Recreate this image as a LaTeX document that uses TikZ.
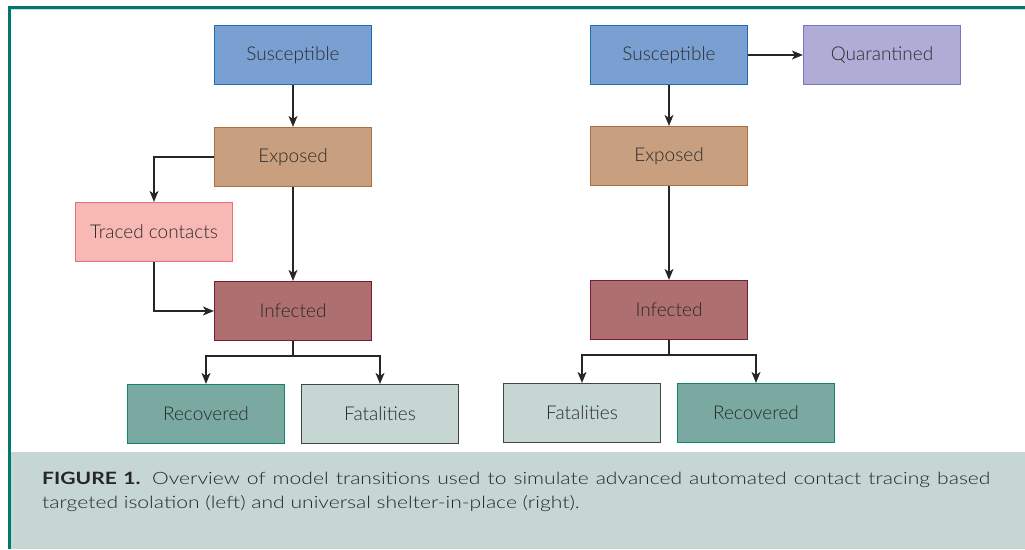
\documentclass[tikz,border=0pt]{standalone}
\usepackage{fontspec}
\setmainfont{Lato Light}[BoldFont=Lato Bold]
\newfontfamily\capfont{Lato Light}[FakeStretch=1.24, BoldFont=Lato Bold, BoldFeatures={FakeStretch=1.24}]
\usetikzlibrary{arrows.meta}
\newcommand{\boxlbl}[1]{\raisebox{-1.5pt}{#1}}
\definecolor{txt}{HTML}{2B2B2B}
\definecolor{framecol}{HTML}{00796A}
\definecolor{mint}{HTML}{BFE3DA}
\definecolor{capbg}{HTML}{C5D6D3}
\definecolor{sF}{HTML}{7AA0D2}\definecolor{sD}{HTML}{1A6EB8}
\definecolor{eF}{HTML}{C8A080}\definecolor{eD}{HTML}{B06E3C}
\definecolor{tF}{HTML}{F8B8B4}\definecolor{tD}{HTML}{EE6E78}
\definecolor{iF}{HTML}{AD6F6F}\definecolor{iD}{HTML}{7A1B35}
\definecolor{rF}{HTML}{7AA9A1}\definecolor{rD}{HTML}{13826F}
\definecolor{fF}{HTML}{C5D6D3}\definecolor{fD}{HTML}{444444}
\definecolor{qF}{HTML}{AFADD6}\definecolor{qD}{HTML}{7A76C2}
\tikzset{
  box/.style={draw, line width=1.2pt, minimum width=157pt, minimum height=59pt, inner sep=0pt, text=txt, font=\fontsize{19}{22}\selectfont},
  susbox/.style={box, fill=sF, draw=sD},
  expbox/.style={box, fill=eF, draw=eD},
  trcbox/.style={box, fill=tF, draw=tD},
  infbox/.style={box, fill=iF, draw=iD},
  recbox/.style={box, fill=rF, draw=rD},
  fatbox/.style={box, fill=fF, draw=fD},
  quabox/.style={box, fill=qF, draw=qD},
  arr/.style={-{Stealth[length=11pt,width=9pt,inset=3pt]}, line width=1.3pt, draw=black!85},
  plainline/.style={line width=1.3pt, draw=black!85},
  captext/.style={anchor=base west, inner sep=0pt, text=black!85, font=\capfont\fontsize{17}{20}\selectfont}
}
\begin{document}
\begin{tikzpicture}[x=1pt,y=-1pt]
\useasboundingbox (0,0) rectangle (1025,549);
\fill[capbg] (11,452) rectangle (1025,549);
\draw[mint, line width=1pt] (11,9.8) -- (1025,9.8);
\draw[framecol, line width=3pt] (9.5,549) -- (9.5,7) -- (1025,7);

% left model
\node[susbox] (lS) at (293,55) {\boxlbl{Susceptible}};
\node[expbox] (lE) at (293,157) {\boxlbl{Exposed}};
\node[trcbox] (lT) at (154,232) {\boxlbl{Traced contacts}};
\node[infbox] (lI) at (293,311) {\boxlbl{Infected}};
\node[recbox] (lR) at (206,414) {\boxlbl{Recovered}};
\node[fatbox] (lF) at (380,414) {\boxlbl{Fatalities}};
\coordinate (lB) at (293,356);
\draw[arr] (lS) -- (lE);
\draw[arr] (lE.west) -| (lT.north);
\draw[arr] (lT.south) |- (lI.west);
\draw[arr] (lE) -- (lI);
\draw[plainline] (lI.south) -- (lB);
\draw[arr] (lB) -| (lR.north);
\draw[arr] (lB) -| (lF.north);

% right model
\node[susbox] (rS) at (669,55) {\boxlbl{Susceptible}};
\node[quabox] (rQ) at (882,55) {\boxlbl{Quarantined}};
\node[expbox] (rE) at (669,156) {\boxlbl{Exposed}};
\node[infbox] (rI) at (669,310) {\boxlbl{Infected}};
\node[fatbox] (rF) at (582,413) {\boxlbl{Fatalities}};
\node[recbox] (rR) at (756,413) {\boxlbl{Recovered}};
\coordinate (rB) at (669,355);
\draw[arr] (rS) -- (rQ);
\draw[arr] (rS) -- (rE);
\draw[arr] (rE) -- (rI);
\draw[plainline] (rI.south) -- (rB);
\draw[arr] (rB) -| (rF.north);
\draw[arr] (rB) -| (rR.north);

% caption
\node[captext] (c1) at (42,484) {\makebox[948pt][s]{\textbf{FIGURE 1.} Overview of model transitions used to simulate advanced automated contact tracing based}};
\node[captext] (c2) at (42,508) {targeted isolation (left) and universal shelter-in-place (right).};
\end{tikzpicture}
\end{document}
